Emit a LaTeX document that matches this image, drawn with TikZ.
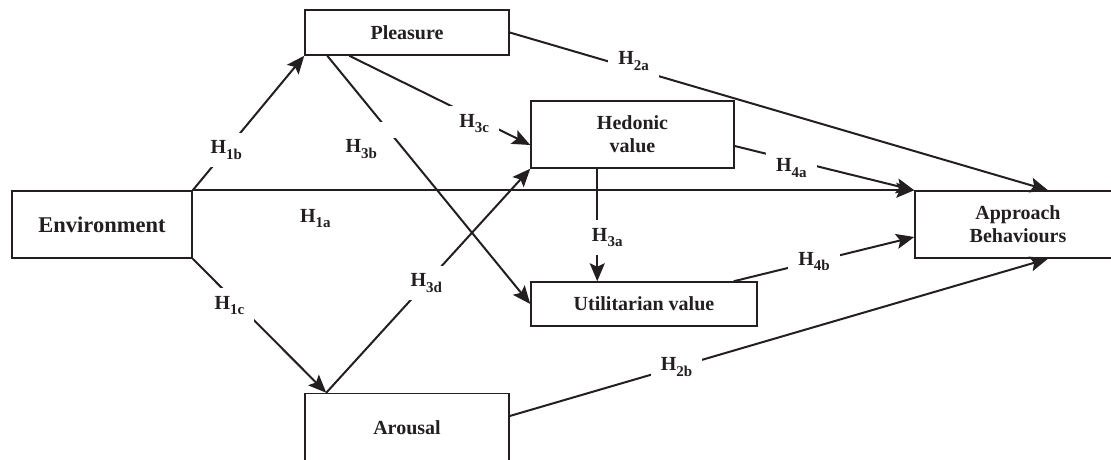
\documentclass[tikz,border=0pt]{standalone}
\usepackage{fontspec}
\setmainfont{Liberation Serif}
\usepackage{tikz}
\usetikzlibrary{arrows.meta}
\definecolor{ink}{RGB}{35,31,32}
\newcommand\hsub[1]{H\raisebox{-5.5pt}{\fontsize{15}{15}\selectfont #1}}

\begin{document}
\begin{tikzpicture}[x=1pt,y=-1pt,->,>={Stealth[length=18pt,width=15pt,inset=3.5pt]},
                    line width=2pt,color=ink,
                    box/.style={rectangle,draw,line width=1.5pt,inner sep=0pt,align=center,
                                font=\fontsize{20}{23}\selectfont\bfseries},
                    hyp/.style={fill=white,inner xsep=10pt,inner ysep=8pt,
                                font=\fontsize{20}{22}\selectfont\bfseries}]

  \useasboundingbox (0,0) rectangle (1111,460);
  \clip (0,0) rectangle (1111,460);

  \node[box,minimum width=180pt,minimum height=67pt,font=\fontsize{22.5}{26}\selectfont\bfseries] (1) at (102,224.5) {Environment};
  \node[box,minimum width=204pt,minimum height=45pt] (2) at (407,32.5) {Pleasure};
  \node[box,minimum width=203pt,minimum height=67pt] (3) at (632.5,134.5) {Hedonic\\value};
  \node[box,minimum width=226pt,minimum height=44pt] (4) at (644,304) {Utilitarian value};
  \node[box,minimum width=204pt,minimum height=68pt] (5) at (407,427.5) {Arousal};
  \node[box,minimum width=206pt,minimum height=67pt] (6) at (1018,224.5) {Approach\\Behaviours};

  \path[every node/.style=hyp]
    (1.north east) edge node[pos=.17,below=10pt] {\hsub{1a}} (6.north west)
                   edge node[pos=.3] {\hsub{1b}} (2.south west)
    (1.south east) edge node[pos=.35,xshift=-10pt] {\hsub{1c}} ([xshift=22pt]5.north west)
    ([xshift=22pt]5.north west) edge node[pos=.49] {\hsub{3d}} (3.south west)
    ([xshift=23pt]2.south west) edge node[pos=.3] {} node[pos=.375,xshift=-42pt] {\hsub{3b}} (4.west)
    ([xshift=45pt]2.south west) edge node[pos=.69,yshift=-6pt] {\hsub{3c}} ([yshift=-10.5pt]3.west)
    (2.east) edge node[pos=.23,yshift=8pt] {\hsub{2a}} ([xshift=30pt]6.north)
    ([yshift=-11.5pt]3.east) edge node[pos=.315,yshift=-8pt] {\hsub{4a}} (6.north west)
    ([xshift=67pt]3.south west) edge node[pos=.61,xshift=10pt] {\hsub{3a}} ([xshift=67pt]4.north west)
    ([xshift=-24pt]4.north east) edge node[pos=.445] {\hsub{4b}} ([yshift=-12.5pt]6.west)
    ([yshift=11.5pt]5.east) edge node[pos=.31] {\hsub{2b}} ([xshift=30pt]6.south);

\end{tikzpicture}
\end{document}
